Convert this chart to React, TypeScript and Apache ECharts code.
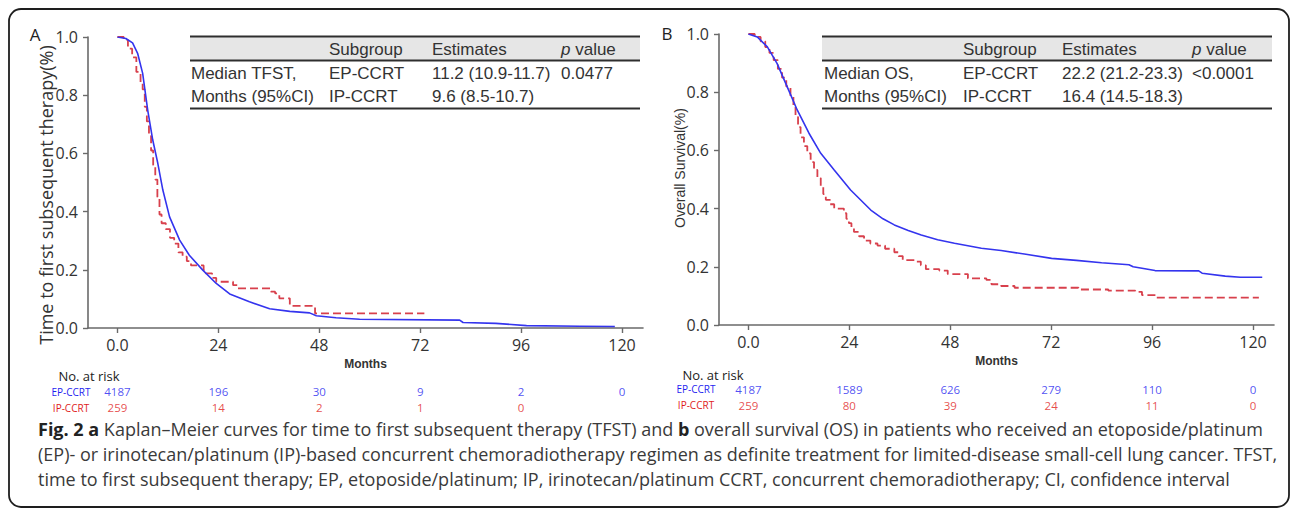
import React, { useEffect, useRef } from "react";
import * as echarts from "echarts";

// ---------- data ----------
const monthTicks = [0, 24, 48, 72, 96, 120];

// TFST (panel A) – month, survival proportion
const tfstEP: [number, number][] = [
  [0, 1], [2, 0.995], [3.6, 0.98], [4.8, 0.944], [6, 0.875], [7.2, 0.749], [8.4, 0.646],
  [9.6, 0.566], [10.8, 0.474], [12.4, 0.382], [14.8, 0.302], [17.1, 0.25], [20.3, 0.199],
  [23.5, 0.153], [26.7, 0.117], [31.4, 0.09], [36.2, 0.066], [41, 0.057], [45.7, 0.052],
  [47.3, 0.042], [52, 0.035], [57.6, 0.03], [81.4, 0.027], [82.2, 0.019], [90, 0.016],
  [97.3, 0.008], [110, 0.006], [118.3, 0.005],
];
const tfstIP: [number, number][] = [
  [0, 1], [1.5, 0.99], [2.5, 0.96], [3.5, 0.93], [4.5, 0.88], [5.5, 0.84], [6, 0.82],
  [6.5, 0.76], [7, 0.71], [7.5, 0.66], [8, 0.61], [8.5, 0.56], [9, 0.51], [9.5, 0.45],
  [10, 0.39], [10.5, 0.36], [11.5, 0.34], [12.5, 0.31], [13.5, 0.29], [14.5, 0.26],
  [15.5, 0.245], [16.5, 0.23], [17.5, 0.215], [20.5, 0.2], [21, 0.188], [22.5, 0.172],
  [23.5, 0.159], [27.5, 0.147], [28.5, 0.136], [36.5, 0.125], [37.5, 0.119], [38.5, 0.102],
  [41, 0.076], [47, 0.05], [73, 0.05],
];

// OS (panel B)
const osEP: [number, number][] = [
  [0, 1], [2.1, 0.99], [4.5, 0.956], [6.8, 0.899], [9.2, 0.819], [11.6, 0.739], [14.4, 0.659],
  [17.2, 0.59], [20.4, 0.533], [24.3, 0.464], [29.1, 0.395], [32, 0.365], [34.7, 0.344],
  [38, 0.325], [41.1, 0.309], [45, 0.293], [49, 0.281], [55.4, 0.264], [60.1, 0.256],
  [66, 0.243], [72.1, 0.229], [78, 0.222], [84, 0.214], [90.5, 0.207], [91.5, 0.2],
  [93.6, 0.195], [96.7, 0.187], [107.1, 0.186], [107.9, 0.178], [113.4, 0.168],
  [117, 0.164], [122.2, 0.164],
];
const osIP: [number, number][] = [
  [0, 1], [1.5, 0.99], [2.9, 0.975], [4, 0.955], [5, 0.935], [6, 0.91], [7, 0.88], [8, 0.85],
  [9, 0.82], [10, 0.785], [10.7, 0.75], [11.2, 0.715], [11.8, 0.68], [12.4, 0.645],
  [13.2, 0.615], [14, 0.59], [14.8, 0.56], [15.6, 0.533], [16.4, 0.505], [17.2, 0.475],
  [17.8, 0.45], [18.4, 0.43], [19.4, 0.415], [20.4, 0.4], [22.7, 0.384], [23.3, 0.365],
  [23.9, 0.35], [24.5, 0.335], [25.1, 0.32], [26.3, 0.305], [27.5, 0.29], [29, 0.28],
  [30.7, 0.273], [32.5, 0.262], [34.7, 0.25], [35.7, 0.237], [36.7, 0.223], [39.5, 0.218],
  [41, 0.205], [42.2, 0.192], [45.4, 0.187], [47.4, 0.175], [52.2, 0.16], [56.6, 0.155],
  [57.8, 0.14], [60.1, 0.134], [63.3, 0.128], [78.5, 0.122], [85.6, 0.118], [92, 0.114],
  [93.6, 0.103], [97.1, 0.094], [121.4, 0.094],
];

// numbers at risk
const riskMonthsA = [0, 24, 48, 72, 96, 120];
const riskA_EP = [4187, 196, 30, 9, 2, 0];
const riskMonthsA_IP = [0, 24, 48, 72, 96];
const riskA_IP = [259, 14, 2, 1, 0];
const riskMonthsB = [0, 24, 48, 72, 96, 120];
const riskB_EP = [4187, 1589, 626, 279, 110, 0];
const riskB_IP = [259, 80, 39, 24, 11, 0];

// tables
const tableHeader = ["", "Subgroup", "Estimates", "{i|p} value"];
const tableA = [
  ["Median TFST,", "EP-CCRT", "11.2 (10.9-11.7)", "0.0477"],
  ["Months (95%CI)", "IP-CCRT", "9.6 (8.5-10.7)", ""],
];
const tableB = [
  ["Median OS,", "EP-CCRT", "22.2 (21.2-23.3)", "<0.0001"],
  ["Months (95%CI)", "IP-CCRT", "16.4 (14.5-18.3)", ""],
];

const captionLines = [
  "{b|Fig. 2 a} Kaplan–Meier curves for time to first subsequent therapy (TFST) and {b|b} overall survival (OS) in patients who received an etoposide/platinum",
  "(EP)- or irinotecan/platinum (IP)-based concurrent chemoradiotherapy regimen as definite treatment for limited-disease small-cell lung cancer. TFST,",
  "time to first subsequent therapy; EP, etoposide/platinum; IP, irinotecan/platinum CCRT, concurrent chemoradiotherapy; CI, confidence interval",
];

// ---------- styles ----------
const BLUE = "#3434ee";
const RED = "#d8404c";
const RISK_BLUE = "#1f1ff0";
const RISK_RED = "#e01c1c";
const AXIS = "#6a6a6a";
const SANS = '"Open Sans", sans-serif';
const ARIAL = '"Liberation Sans", Arial, sans-serif';

function makeXAxis(gridIndex: number) {
  return {
    type: "value",
    gridIndex,
    min: -7,
    max: 125,
    axisLine: { show: true, onZero: false, lineStyle: { color: AXIS, width: 1.6 } },
    axisTick: { show: true, customValues: monthTicks, length: 5, lineStyle: { color: AXIS, width: 1.4 } },
    axisLabel: {
      customValues: monthTicks,
      formatter: (v: number) => (v === 0 ? "0.0" : String(v)),
      fontSize: 16,
      fontFamily: SANS,
      color: "#333",
      margin: 9,
    },
    splitLine: { show: false },
    name: "Months",
    nameLocation: "middle",
    nameGap: 20,
    nameTextStyle: { fontSize: 12, fontWeight: "bold", fontFamily: ARIAL, color: "#333" },
  };
}
function makeYAxis(gridIndex: number) {
  return {
    type: "value",
    gridIndex,
    min: 0,
    max: 1,
    interval: 0.2,
    axisLine: { show: true, onZero: false, lineStyle: { color: AXIS, width: 1.6 } },
    axisTick: { show: true, length: 5, lineStyle: { color: AXIS, width: 1.4 } },
    axisLabel: {
      formatter: (v: number) => v.toFixed(1),
      fontSize: 16,
      fontFamily: SANS,
      color: "#333",
      margin: 10,
    },
    splitLine: { show: false },
  };
}
function hiddenX(gridIndex: number) {
  return { type: "value", gridIndex, min: -7, max: 125, show: false };
}
function hiddenY(gridIndex: number) {
  return { type: "value", gridIndex, min: 0, max: 1, show: false };
}

function riskSeries(grid: number, months: number[], counts: number[], row: number, color: string) {
  return {
    type: "scatter",
    xAxisIndex: grid,
    yAxisIndex: grid,
    symbolSize: 0,
    clip: false,
    silent: true,
    data: months.map((m, i) => [m, row, counts[i]]),
    label: {
      show: true,
      position: "inside",
      formatter: (p: any) => String(p.value[2]),
      color,
      fontSize: 11.5,
      lineHeight: 12,
      fontFamily: SANS,
    },
  };
}

function tableGraphics(x0: number, x1: number, colX: number[], rows: string[][]) {
  const els: any[] = [];
  const font = { fontSize: 17, fontFamily: ARIAL, fill: "#333" };
  els.push({ type: "rect", shape: { x: x0, y: 37, width: x1 - x0, height: 23 }, style: { fill: "#e6e6e6" }, silent: true });
  [36.5, 60.5, 108.5].forEach((y) =>
    els.push({ type: "line", shape: { x1: x0, y1: y, x2: x1, y2: y }, style: { stroke: "#2e2e2e", lineWidth: 2 }, silent: true })
  );
  tableHeader.forEach((t, i) => {
    if (!t) return;
    els.push({
      type: "text",
      x: colX[i],
      y: 49.5,
      style: {
        text: t,
        ...font,
        verticalAlign: "middle",
        rich: { i: { fontStyle: "italic", fontSize: 17, fontFamily: ARIAL, fill: "#333" } },
      },
      silent: true,
    });
  });
  rows.forEach((r, ri) => {
    r.forEach((t, ci) => {
      if (!t) return;
      els.push({
        type: "text",
        x: colX[ci],
        y: 73.5 + ri * 23,
        style: { text: t, ...font, verticalAlign: "middle" },
        silent: true,
      });
    });
  });
  return els;
}

export default function App() {
  const ref = useRef<HTMLDivElement>(null);
  useEffect(() => {
    if (!ref.current) return;
    const chart = echarts.init(ref.current, undefined, { renderer: "svg" });

    const small = (text: string, x: number, y: number, fill: string) => ({
      type: "text",
      x,
      y,
      style: { text, fontSize: 10, lineHeight: 10, fontFamily: SANS, fill, align: "center", verticalAlign: "middle" },
      silent: true,
    });

    const graphic: any[] = [
      {
        type: "rect",
        shape: { x: 9, y: 9, width: 1280, height: 498, r: 12 },
        style: { fill: "none", stroke: "#1e1e1e", lineWidth: 1.8 },
        silent: true,
      },
      { type: "text", x: 35, y: 34, style: { text: "A", fontSize: 17, fontFamily: SANS, fill: "#222", align: "center", verticalAlign: "middle" } },
      { type: "text", x: 667, y: 33, style: { text: "B", fontSize: 17, fontFamily: SANS, fill: "#222", align: "center", verticalAlign: "middle" } },
      {
        type: "text",
        x: 46,
        y: 195,
        rotation: Math.PI / 2,
        style: { text: "Time to first subsequent therapy(%)", fontSize: 18, fontFamily: SANS, fill: "#333", align: "center", verticalAlign: "middle" },
      },
      {
        type: "text",
        x: 680,
        y: 168,
        rotation: Math.PI / 2,
        style: { text: "Overall Survival(%)", fontSize: 14, fontFamily: ARIAL, fill: "#333", align: "center", verticalAlign: "middle" },
      },
      ...tableGraphics(190, 640, [191, 329, 432, 561], tableA),
      ...tableGraphics(822, 1272, [824, 963, 1062, 1192], tableB),
      { type: "text", x: 89, y: 376, style: { text: "No. at risk", fontSize: 13, fontFamily: SANS, fill: "#222", align: "center", verticalAlign: "middle" } },
      { type: "text", x: 713, y: 375, style: { text: "No. at risk", fontSize: 13, fontFamily: SANS, fill: "#222", align: "center", verticalAlign: "middle" } },
      small("EP-CCRT", 71, 391.5, RISK_BLUE),
      small("IP-CCRT", 71, 407.5, RISK_RED),
      small("EP-CCRT", 696, 389, RISK_BLUE),
      small("IP-CCRT", 696, 405, RISK_RED),
      ...captionLines.map((t, i) => ({
        type: "text",
        x: 38,
        y: 429 + i * 25,
        style: {
          text: t,
          fontSize: 18,
          fontFamily: SANS,
          fill: "#3a3a3a",
          verticalAlign: "middle",
          rich: { b: { fontWeight: "bold", fontSize: 18, fontFamily: SANS, fill: "#222" } },
        },
        silent: true,
      })),
    ];

    chart.setOption({
      animation: false,
      backgroundColor: "#ffffff",
      grid: [
        { left: 88, top: 37, width: 555, height: 291 },
        { left: 719, top: 34, width: 555, height: 291 },
        { left: 88, top: 391.5, width: 555, height: 16 },
        { left: 719, top: 389, width: 555, height: 16 },
      ],
      xAxis: [makeXAxis(0), makeXAxis(1), hiddenX(2), hiddenX(3)],
      yAxis: [makeYAxis(0), makeYAxis(1), hiddenY(2), hiddenY(3)],
      series: [
        {
          type: "line", name: "TFST EP-CCRT", xAxisIndex: 0, yAxisIndex: 0, data: tfstEP,
          showSymbol: false, lineStyle: { color: BLUE, width: 1.6 }, itemStyle: { color: BLUE }, z: 3,
        },
        {
          type: "line", name: "TFST IP-CCRT", xAxisIndex: 0, yAxisIndex: 0, data: tfstIP, step: "end",
          showSymbol: false, lineStyle: { color: RED, width: 1.8, type: [8, 4] }, itemStyle: { color: RED }, z: 2,
        },
        {
          type: "line", name: "OS EP-CCRT", xAxisIndex: 1, yAxisIndex: 1, data: osEP,
          showSymbol: false, lineStyle: { color: BLUE, width: 1.6 }, itemStyle: { color: BLUE }, z: 3,
        },
        {
          type: "line", name: "OS IP-CCRT", xAxisIndex: 1, yAxisIndex: 1, data: osIP, step: "end",
          showSymbol: false, lineStyle: { color: RED, width: 1.8, type: [8, 4] }, itemStyle: { color: RED }, z: 2,
        },
        riskSeries(2, riskMonthsA, riskA_EP, 1, RISK_BLUE),
        riskSeries(2, riskMonthsA_IP, riskA_IP, 0, RISK_RED),
        riskSeries(3, riskMonthsB, riskB_EP, 1, RISK_BLUE),
        riskSeries(3, riskMonthsB, riskB_IP, 0, RISK_RED),
      ],
      graphic,
    });
    return () => chart.dispose();
  }, []);
  return <div ref={ref} style={{ position: "absolute", left: 0, top: 0, width: 1292, height: 513, background: "#fff" }} />;
}
